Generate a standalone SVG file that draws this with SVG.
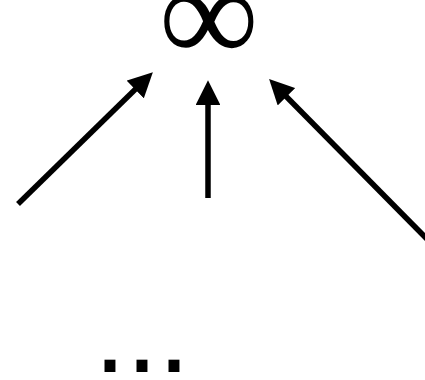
<svg xmlns="http://www.w3.org/2000/svg" width="425" height="380" viewBox="0 0 425 380">
<style>
.lbl{font-family:"Liberation Serif","DejaVu Serif",serif;fill:#000}
.dots{font-family:"Liberation Sans",Arial,sans-serif;fill:#000}
.edge{stroke:#000;stroke-width:5.5;fill:none;marker-end:url(#ah)}
</style>
<defs>
<marker id="ah" viewBox="0 0 10 10" refX="2" refY="5" markerWidth="4.5" markerHeight="4.5" orient="auto" markerUnits="strokeWidth">
<path d="M0,0 L10,5 L0,10 z" fill="#000"/>
</marker>
</defs>
<rect width="425" height="380" fill="#fff"/>
<g id="node-infinity">
<text class="lbl" x="209" y="62" font-size="140" text-anchor="middle">∞</text>
</g>
<g id="node-dots">
<text class="dots" x="94" y="372" font-size="115">...</text>
</g>
<g id="connectors">
<line class="edge" x1="18" y1="204" x2="138.7" y2="86"/>
<line class="edge" x1="208" y1="198" x2="208" y2="100"/>
<line class="edge" x1="428" y1="240" x2="283" y2="93.2"/>
</g>
</svg>
